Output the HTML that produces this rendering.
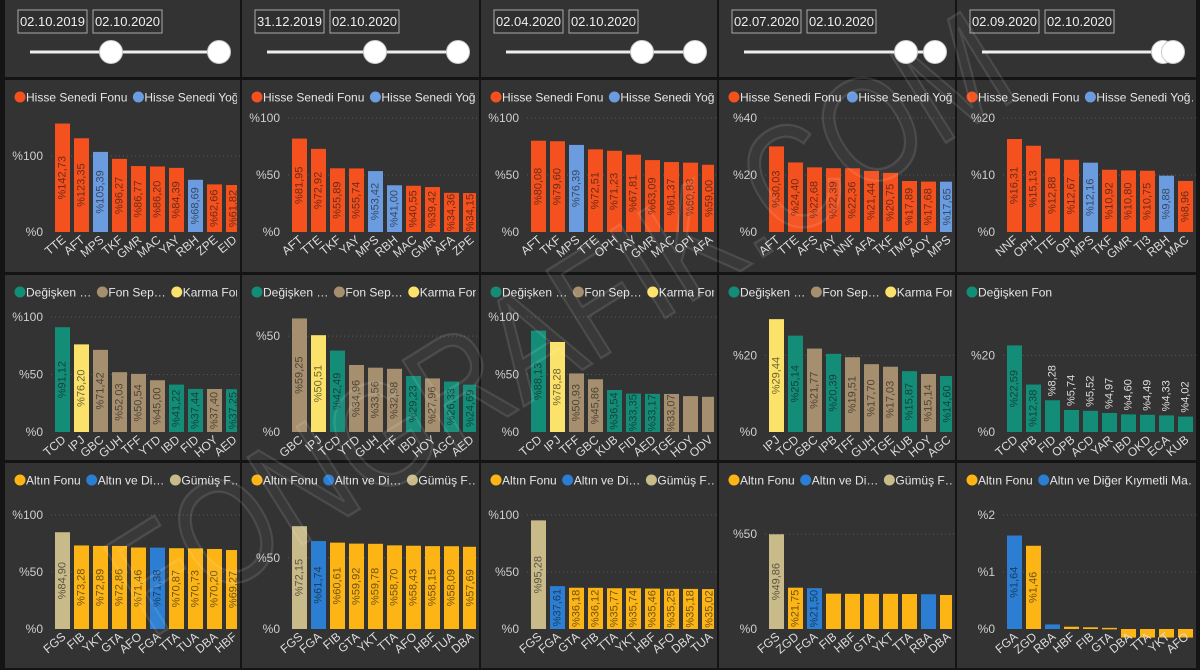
<!DOCTYPE html>
<html><head><meta charset="utf-8">
<style>
html,body{margin:0;padding:0;background:#141414;}
svg{display:block;font-family:"Liberation Sans",Arial,sans-serif;}
</style></head>
<body>
<svg id="dash" width="1200" height="670" viewBox="0 0 1200 670" xmlns="http://www.w3.org/2000/svg"></svg>
<script>
// ---------- DATA ----------
const startDates = ["02.10.2019","31.12.2019","02.04.2020","02.07.2020","02.09.2020"];
const endDates = ["02.10.2020","02.10.2020","02.10.2020","02.10.2020","02.10.2020"];

// Row 1: Hisse Senedi
const r1c1Cats = ["TTE","AFT","MPS","TKF","GMR","MAC","YAY","RBH","ZPE","EID"];
const r1c1Vals = [142.73,123.35,105.39,96.27,86.77,86.20,84.39,68.69,62.66,61.82];
const r1c1Grp = [0,0,1,0,0,0,0,1,0,0];
const r1c2Cats = ["AFT","TTE","TKF","YAY","MPS","RBH","MAC","GMR","AFA","ZPE"];
const r1c2Vals = [81.95,72.92,55.89,55.74,53.42,41.00,40.55,39.42,34.36,34.15];
const r1c2Grp = [0,0,0,0,1,1,0,0,0,0];
const r1c3Cats = ["AFT","TKF","MPS","TTE","OPH","YAY","GMR","MAC","OPI","AFA"];
const r1c3Vals = [80.08,79.60,76.39,72.51,71.23,67.81,63.09,61.37,60.83,59.00];
const r1c3Grp = [0,0,1,0,0,0,0,0,0,0];
const r1c4Cats = ["AFT","TTE","AFS","YAY","NNF","AFA","TKF","TMG","AOY","MPS"];
const r1c4Vals = [30.03,24.40,22.68,22.39,22.36,21.44,20.75,17.89,17.68,17.65];
const r1c4Grp = [0,0,0,0,0,0,0,0,0,1];
const r1c5Cats = ["NNF","OPH","TTE","OPI","MPS","TKF","GMR","TI3","RBH","MAC"];
const r1c5Vals = [16.31,15.13,12.88,12.67,12.16,10.92,10.80,10.75,9.88,8.96];
const r1c5Grp = [0,0,0,0,1,0,0,0,1,0];

// Row 2: Değişken / Fon Sepeti / Karma
const r2c1Cats = ["TCD","IPJ","GBC","GUH","TFF","YTD","IBD","FID","HOY","AED"];
const r2c1Vals = [91.12,76.20,71.42,52.03,50.54,45.00,41.22,37.44,37.40,37.25];
const r2c1Grp = [0,2,1,1,1,1,0,0,1,0];
const r2c2Cats = ["GBC","IPJ","TCD","YTD","GUH","TFF","IBD","HOY","AGC","AED"];
const r2c2Vals = [59.25,50.51,42.49,34.96,33.56,32.98,29.23,27.96,26.33,24.69];
const r2c2Grp = [1,2,0,1,1,1,0,1,0,0];
const r2c3Cats = ["TCD","IPJ","TFF","GBC","KUB","FID","AED","TGE","HOY","ODV"];
const r2c3Vals = [88.13,78.28,50.93,45.86,36.54,33.35,33.17,33.07,31.2,30.6];
const r2c3Grp = [0,2,1,1,0,0,0,1,1,1];
const r2c3Show = [1,1,1,1,1,1,1,1,0,0];
const r2c4Cats = ["IPJ","TCD","GBC","IPB","TFF","GUH","TGE","KUB","HOY","AGC"];
const r2c4Vals = [29.44,25.14,21.77,20.39,19.51,17.70,17.03,15.87,15.14,14.60];
const r2c4Grp = [2,0,1,0,1,1,1,0,1,0];
const r2c5Cats = ["TCD","IPB","FID","OPB","ACD","YAR","IBD","OKD","ECA","KUB"];
const r2c5Vals = [22.59,12.38,8.28,5.74,5.52,4.97,4.60,4.49,4.33,4.02];
const r2c5Grp = [0,0,0,0,0,0,0,0,0,0];

// Row 3: Altın / Kıymetli Maden / Gümüş
const r3c1Cats = ["FGS","FIB","YKT","GTA","AFO","FGA","TTA","TUA","DBA","HBF"];
const r3c1Vals = [84.90,73.28,72.89,72.86,71.46,71.38,70.87,70.73,70.20,69.27];
const r3c1Grp = [2,0,0,0,0,1,0,0,0,0];
const r3c2Cats = ["FGS","FGA","FIB","GTA","YKT","TTA","AFO","HBF","TUA","DBA"];
const r3c2Vals = [72.15,61.74,60.61,59.92,59.78,58.70,58.43,58.15,58.09,57.69];
const r3c2Grp = [2,1,0,0,0,0,0,0,0,0];
const r3c3Cats = ["FGS","FGA","GTA","FIB","TTA","YKT","HBF","AFO","DBA","TUA"];
const r3c3Vals = [95.28,37.61,36.18,36.12,35.77,35.74,35.46,35.25,35.18,35.02];
const r3c3Grp = [2,1,0,0,0,0,0,0,0,0];
const r3c4Cats = ["FGS","ZGD","FGA","FIB","HBF","GTA","YKT","TTA","RBA","DBA"];
const r3c4Vals = [49.86,21.75,21.50,18.6,18.5,18.5,18.5,18.4,18.3,17.9];
const r3c4Grp = [2,0,1,0,0,0,0,0,1,0];
const r3c4Show = [1,1,1,0,0,0,0,0,0,0];
const r3c5Cats = ["FGA","ZGD","RBA","HBF","FIB","GTA","DBA","TTA","YKT","AFO"];
const r3c5Vals = [1.64,1.46,0.08,0.04,0.03,0.02,-0.15,-0.15,-0.15,-0.15];
const r3c5Grp = [1,0,1,0,0,0,0,0,0,0];
const r3c5Show = [1,1,0,0,0,0,0,0,0,0];

// ---------- DRAW ----------
const NS="http://www.w3.org/2000/svg";
const svg=document.getElementById('dash');
function el(tag,attrs,parent,text){const e=document.createElementNS(NS,tag);for(const k in attrs)e.setAttribute(k,attrs[k]);if(text!==undefined)e.textContent=text;(parent||svg).appendChild(e);return e;}
const colLeft=[5,242,481,719,957];
const colW=[235,237,236,236,239];
const rows=[{top:80,h:192,plotTop:38,base:152},{top:275,h:185,plotTop:42,base:157},{top:463,h:205,plotTop:52,base:166}];
const pal=[
 {names:["Hisse Senedi Fonu","Hisse Senedi Yoğ…"],cols:["#f4511e","#6c9ce0"]},
 {names:["Değişken …","Fon Sep…","Karma Fon"],cols:["#138d78","#a68f6e","#fbe26a"]},
 {names:["Altın Fonu","Altın ve Di…","Gümüş F…"],cols:["#fdb515","#2b7ed2","#c9ba8a"]}
];

// top sliders
const handleL=[111,375,642,906,1163], handleR=[219,458,695,935,1173];
for(let c=0;c<5;c++){
  const x=colLeft[c];
  const g=el('g',{},svg);
  
  
  el('rect',{x:x,y:0,width:colW[c],height:77,fill:'#333'},g);
  const b1=el('rect',{x:x+13,y:10,width:69,height:23,fill:'#2f2f2f',stroke:'#aaa','stroke-width':1},g);
  
  el('text',{x:x+47.5,y:26,'text-anchor':'middle','font-size':13,fill:'#eee'},g,startDates[c]);
  const b2=el('rect',{x:x+88,y:10,width:69,height:23,fill:'#2f2f2f',stroke:'#aaa','stroke-width':1},g);
  
  el('text',{x:x+122.5,y:26,'text-anchor':'middle','font-size':13,fill:'#eee'},g,endDates[c]);
  el('line',{x1:x+25,y1:52,x2:handleR[c],y2:52,stroke:'#eee','stroke-width':3},g);
  const h1=el('circle',{cx:handleL[c],cy:52,r:11.5,fill:'#fff',stroke:'#ccc','stroke-width':1},g);
  
  const h2=el('circle',{cx:handleR[c],cy:52,r:11.5,fill:'#fff',stroke:'#ccc','stroke-width':1},g);
  
}

function chart(r,c,cats,vals,grp,yMin,yMax,ticks,show,legendN){
  const R=rows[r], x0=colLeft[c], top=R.top;
  const g=el('g',{},svg);
  
  
  el('rect',{x:x0,y:top,width:colW[c],height:R.h,fill:'#333'},g);
  const clipId='clip'+r+c;
  const cp=el('clipPath',{id:clipId},g);
  el('rect',{x:x0,y:top,width:colW[c]-3,height:R.h},cp);
  const P=pal[r];
  const lgG=el('g',{'clip-path':'url(#'+clipId+')'},g);
  let lx=x0+10;
  const nL=legendN||P.names.length;
  const legendNames=(r===1&&c===4)?["Değişken Fon"]:(r===2&&c===4)?["Altın Fonu","Altın ve Diğer Kıymetli Ma…"]:P.names;
  for(let i=0;i<Math.min(nL,legendNames.length);i++){
    const lg=el('g',{},lgG);
    
    
    el('circle',{cx:lx+5,cy:top+17,r:5.5,fill:P.cols[i]},lg);
    const t=el('text',{x:lx+11,y:top+21.5,'font-size':12,fill:'#e6e6e6'},lg,legendNames[i]);
    lx+=11+t.getComputedTextLength()+6;
  }
  const yS=v=>top+R.base-(v-0)*(R.base-R.plotTop)/(yMax);
  ticks.forEach(tv=>{
    const y=yS(tv);
    const tl=el('text',{x:x0+38,y:y+4,'text-anchor':'end','font-size':12,fill:'#cfcfcf'},g,'%'+tv);
    
    
    if(tv!==0) el('line',{x1:x0+46,x2:x0+colW[c],y1:y,y2:y,stroke:'#5a5a5a','stroke-dasharray':'1,3'},g);
  });
  const band=19, bw=15, bx0=x0+50;
  const bg=el('g',{'clip-path':'url(#'+clipId+')'},g);
  cats.forEach((cat,i)=>{
    const v=vals[i];
    const bx=bx0+i*band;
    const y1=yS(Math.max(v,0)), y2=yS(Math.min(v,0));
    const col=P.cols[grp[i]];
    const bar=el('rect',{x:bx,y:y1,width:bw,height:Math.max(y2-y1,1.5),fill:col},bg);
    
    
    const label='%'+v.toFixed(2).replace('.',',');
    const cx=bx+bw/2;
    if(!show||show[i]){
      const h=y2-y1;
      if(h>=34){
        const ly=y1+h/2;
        const t=el('text',{x:cx,y:ly,transform:'rotate(-90 '+cx+' '+ly+')','text-anchor':'middle','dominant-baseline':'central','font-size':11,fill:'rgba(20,20,20,0.62)'},bg,label);
        
        
      } else {
        const ly=y1-4;
        const t=el('text',{x:cx,y:ly,transform:'rotate(-90 '+cx+' '+ly+')','text-anchor':'start','dominant-baseline':'central','font-size':11,fill:'#ddd'},bg,label);
        
        
      }
    }
    const ty=top+R.base+9, tx=cx+4;
    const ct=el('text',{x:tx,y:ty,transform:'rotate(-40 '+tx+' '+ty+')','text-anchor':'end','font-size':12,fill:'#dcdcdc'},g,cat);
    
    
  });
}

chart(0,0,r1c1Cats,r1c1Vals,r1c1Grp,0,150,[0,100]);
chart(0,1,r1c2Cats,r1c2Vals,r1c2Grp,0,100,[0,50,100]);
chart(0,2,r1c3Cats,r1c3Vals,r1c3Grp,0,100,[0,50,100]);
chart(0,3,r1c4Cats,r1c4Vals,r1c4Grp,0,40,[0,20,40]);
chart(0,4,r1c5Cats,r1c5Vals,r1c5Grp,0,20,[0,10,20]);
chart(1,0,r2c1Cats,r2c1Vals,r2c1Grp,0,100,[0,50,100]);
chart(1,1,r2c2Cats,r2c2Vals,r2c2Grp,0,60,[0,50]);
chart(1,2,r2c3Cats,r2c3Vals,r2c3Grp,0,100,[0,50,100],r2c3Show);
chart(1,3,r2c4Cats,r2c4Vals,r2c4Grp,0,30,[0,20]);
chart(1,4,r2c5Cats,r2c5Vals,r2c5Grp,0,30,[0,20],null,1);
chart(2,0,r3c1Cats,r3c1Vals,r3c1Grp,0,100,[0,50,100]);
chart(2,1,r3c2Cats,r3c2Vals,r3c2Grp,0,80,[0,50]);
chart(2,2,r3c3Cats,r3c3Vals,r3c3Grp,0,100,[0,50,100]);
chart(2,3,r3c4Cats,r3c4Vals,r3c4Grp,0,60,[0,50],r3c4Show);
chart(2,4,r3c5Cats,r3c5Vals,r3c5Grp,0,2,[0,1,2],r3c5Show,2);

// watermark
const wm=el('text',{x:0,y:0,transform:'translate(150,640) rotate(-32)','font-size':150,fill:'rgba(255,255,255,0.03)',stroke:'rgba(255,255,255,0.11)','stroke-width':2.5,textLength:1030,lengthAdjust:'spacingAndGlyphs'},svg,'FONGRAFIK.COM');


</script>
</body></html>
